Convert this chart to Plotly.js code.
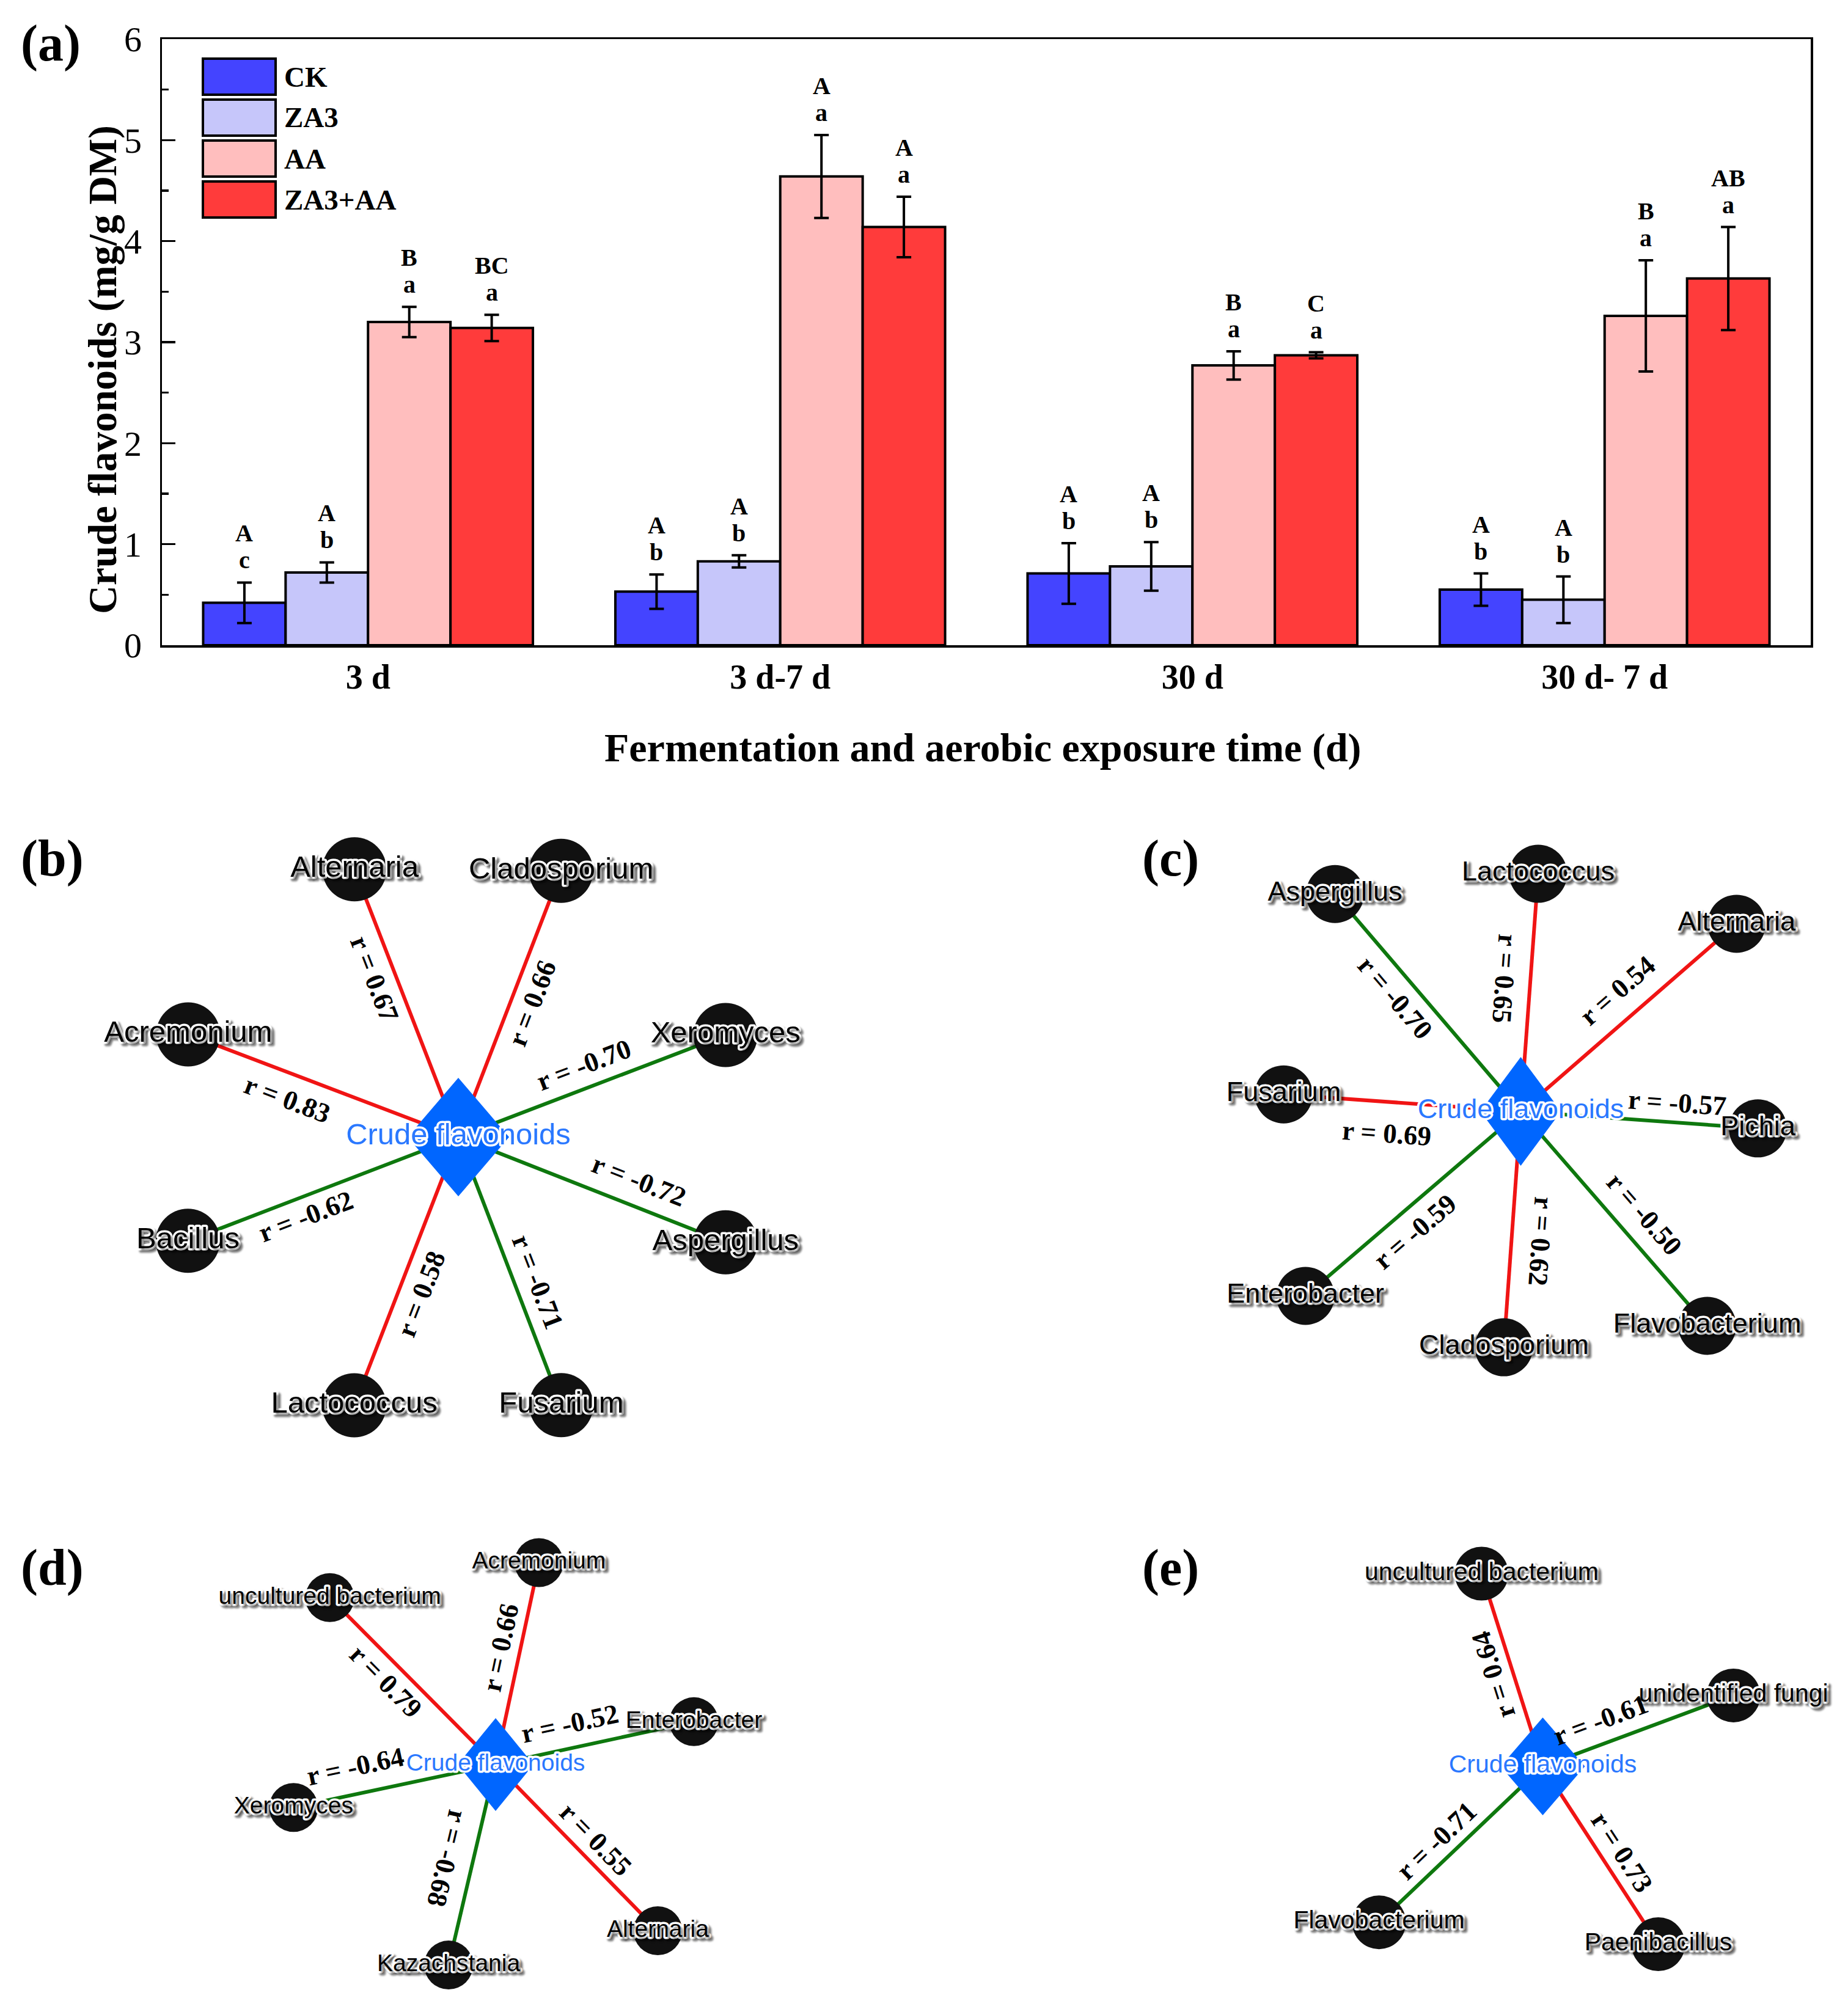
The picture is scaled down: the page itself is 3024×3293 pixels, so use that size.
<!DOCTYPE html>
<html>
<head>
<meta charset="utf-8">
<script src="https://cdn.plot.ly/plotly-3.0.1.min.js"></script>
<style>html,body{margin:0;padding:0;background:#fff;}</style>
</head>
<body>
<div id="chart" style="width:3024px;height:3293px;"></div>
<script>
// ================= DATA: panel (a) =================
const categories = ['3 d', '3 d-7 d', '30 d', '30 d- 7 d'];
const seriesNames = ['CK', 'ZA3', 'AA', 'ZA3+AA'];
const ckMean  = [0.42, 0.53, 0.71, 0.55];
const ckErr   = [0.20, 0.17, 0.30, 0.16];
const za3Mean = [0.72, 0.83, 0.78, 0.45];
const za3Err  = [0.10, 0.06, 0.24, 0.23];
const aaMean  = [3.20, 4.64, 2.77, 3.26];
const aaErr   = [0.15, 0.41, 0.14, 0.55];
const mixMean = [3.14, 4.14, 2.87, 3.63];
const mixErr  = [0.13, 0.30, 0.03, 0.51];
const ckUpper  = ['A', 'A', 'A', 'A'];  const ckLower  = ['c', 'b', 'b', 'b'];
const za3Upper = ['A', 'A', 'A', 'A'];  const za3Lower = ['b', 'b', 'b', 'b'];
const aaUpper  = ['B', 'A', 'B', 'B'];  const aaLower  = ['a', 'a', 'a', 'a'];
const mixUpper = ['BC', 'A', 'C', 'AB']; const mixLower = ['a', 'a', 'a', 'a'];
const yTitle = 'Crude flavonoids (mg/g DM)';
const xTitle = 'Fermentation and aerobic exposure time (d)';

// ================= DATA: networks (b)-(e) =================
const hubName = 'Crude flavonoids';
const netB_nodes = ['Alternaria', 'Cladosporium', 'Acremonium', 'Xeromyces', 'Bacillus', 'Aspergillus', 'Lactococcus', 'Fusarium'];
const netB_r     = [0.67, 0.66, 0.83, -0.70, -0.62, -0.72, 0.58, -0.71];
const netC_nodes = ['Aspergillus', 'Lactococcus', 'Alternaria', 'Fusarium', 'Pichia', 'Enterobacter', 'Cladosporium', 'Flavobacterium'];
const netC_r     = [-0.70, 0.65, 0.54, 0.69, -0.57, -0.59, 0.62, -0.50];
const netD_nodes = ['uncultured bacterium', 'Acremonium', 'Enterobacter', 'Xeromyces', 'Kazachstania', 'Alternaria'];
const netD_r     = [0.79, 0.66, -0.52, -0.64, -0.68, 0.55];
const netE_nodes = ['uncultured bacterium', 'unidentified fungi', 'Flavobacterium', 'Paenibacillus'];
const netE_r     = [0.64, -0.61, -0.71, 0.73];

// ================= LAYOUT / STYLE (positions, sizes) =================
const W = 3024, H = 3293;
const SERIF = 'Liberation Serif, Times New Roman, serif';
const SANS = 'Liberation Sans, Arial, sans-serif';
const barColors = ['#4444ff', '#c6c6fa', '#ffbebe', '#ff3b3b'];
const RED = '#f01414', GREEN = '#0e780e', HUB = '#0066ff', NODE = '#111111';
const BARGAP = 0.2;
const plotL = 265, plotR = 2963, plotT = 64, plotB = 1056;
const netTop = 1290;

// network layout: hub centre, diamond half sizes, node polar layout (deg, px), edge-label placement
const netGeom = {
  b: {cx: 750, cy: 1861, hw: 83, hh: 97, nodeSize: 105, labelSize: 49,
      ang: [111.2, 68.9, 159.2, 20.9, -159.0, -21.5, -111.2, -69.0],
      dist: [470, 467, 473, 468, 474, 470, 471, 470],
      t: [0.62, 0.53, 0.60, 0.50, 0.59, 0.64, 0.555, 0.57],
      off: [-34, 34, -42, -37, -32, -42, -36, -36],
      dir: [-1, 1, -1, 1, -1, 1, -1, 1]},
  c: {cx: 2488.5, cy: 1819, hw: 66, hh: 89, nodeSize: 95, labelSize: 45,
      ang: [130.5, 85.8, 41.0, 175.9, -4.1, -139.4, -94.1, -49.0],
      dist: [468, 390, 468, 389, 389, 464, 387, 465],
      t: [0.587, 0.55, 0.533, 0.555, 0.654, 0.56, 0.543, 0.558],
      off: [-36, -42, -45, -52, -32, -37, -48, -42],
      dir: [-1, -1, 1, -1, 1, -1, 1, 1]},
  d: {cx: 811, cy: 2888, hw: 62, hh: 76, nodeSize: 80, labelSize: 39,
      ang: [134.8, 77.9, 12.2, -168.0, -103.2, -45.7],
      dist: [385, 338, 332, 338, 337, 380],
      t: [0.579, 0.56, 0.40, 0.665, 0.498, 0.533],
      off: [-32, -32, -40, 45, 42, -32],
      dir: [-1, 1, 1, -1, 1, 1]},
  e: {cx: 2524.5, cy: 2891, hw: 69, hh: 80, nodeSize: 88, labelSize: 41,
      ang: [107.6, 20.4, -136.4, -57.0],
      dist: [331, 333, 370, 347],
      t: [0.504, 0.347, 0.568, 0.542],
      off: [-32, -38, 32, -32],
      dir: [1, 1, -1, 1]}
};
const panelLabels = [['(a)', 83, 71], ['(b)', 85, 1405], ['(c)', 1915, 1405], ['(d)', 85, 2566], ['(e)', 1915, 2566]];
const SHADOW_NODE = '4px 4px 3px rgba(0,0,0,0.45)';

// ================= BUILD =================
const px = v => v / W;
const py = v => 1 - v / H;
const traces = [];
const annotations = [];
const shapes = [];

const means = [ckMean, za3Mean, aaMean, mixMean];
const errs = [ckErr, za3Err, aaErr, mixErr];
const uppers = [ckUpper, za3Upper, aaUpper, mixUpper];
const lowers = [ckLower, za3Lower, aaLower, mixLower];

seriesNames.forEach((nm, s) => {
  traces.push({
    type: 'bar', name: nm, x: categories, y: means[s], xaxis: 'x', yaxis: 'y',
    marker: {color: barColors[s], line: {color: '#000', width: 4}},
    error_y: {type: 'data', array: errs[s], visible: true, color: '#000', thickness: 4, width: 12},
    showlegend: false, hoverinfo: 'skip'
  });
});

// significance letters above error bars
const bw = (1 - BARGAP) / seriesNames.length;
categories.forEach((c, i) => {
  seriesNames.forEach((nm, s) => {
    const xpos = i + (s - (seriesNames.length - 1) / 2) * bw;
    const ytop = means[s][i] + errs[s][i];
    const f = {family: SERIF, size: 40, color: '#000', weight: 'bold'};
    annotations.push({xref: 'x', yref: 'y', x: xpos, y: ytop, text: lowers[s][i], showarrow: false,
      xanchor: 'center', yanchor: 'bottom', yshift: 12, font: f});
    annotations.push({xref: 'x', yref: 'y', x: xpos, y: ytop, text: uppers[s][i], showarrow: false,
      xanchor: 'center', yanchor: 'bottom', yshift: 56, font: f});
  });
});

// custom legend (large swatches)
seriesNames.forEach((nm, s) => {
  const top = 96 + 67 * s, bot = top + 59;
  shapes.push({type: 'rect', xref: 'paper', yref: 'paper', x0: px(332), x1: px(451), y0: py(bot), y1: py(top),
    fillcolor: barColors[s], line: {color: '#000', width: 4}});
  annotations.push({xref: 'paper', yref: 'paper', x: px(463), y: py((top + bot) / 2), text: nm, showarrow: false,
    xanchor: 'left', yanchor: 'middle', font: {family: SERIF, size: 47, color: '#000', weight: 'bold'}});
});

// axis titles of panel (a)
annotations.push({xref: 'paper', yref: 'paper', x: px(168), y: py(605), text: yTitle, textangle: -90, showarrow: false,
  xanchor: 'center', yanchor: 'middle', font: {family: SERIF, size: 65, color: '#000', weight: 'bold'}});
annotations.push({xref: 'paper', yref: 'paper', x: px(1609), y: py(1224), text: xTitle, showarrow: false,
  xanchor: 'center', yanchor: 'middle', font: {family: SERIF, size: 66, color: '#000', weight: 'bold'}});

// panel labels
panelLabels.forEach(([t, x, y]) => {
  annotations.push({xref: 'paper', yref: 'paper', x: px(x), y: py(y), text: t, showarrow: false,
    xanchor: 'center', yanchor: 'middle', font: {family: SERIF, size: 84, color: '#000', weight: 'bold'}});
});

function buildNet(key, nodes, rs) {
  const g = netGeom[key];
  const pos = nodes.map((n, k) => {
    const a = g.ang[k] * Math.PI / 180;
    return [g.cx + g.dist[k] * Math.cos(a), g.cy - g.dist[k] * Math.sin(a)];
  });
  [true, false].forEach(positive => {
    const xs = [], ys = [];
    rs.forEach((r, k) => {
      if ((r > 0) === positive) { xs.push(g.cx, pos[k][0], null); ys.push(g.cy, pos[k][1], null); }
    });
    traces.push({type: 'scatter', mode: 'lines', x: xs, y: ys, xaxis: 'x2', yaxis: 'y2',
      line: {color: positive ? RED : GREEN, width: 6}, hoverinfo: 'skip', showlegend: false, cliponaxis: false});
  });
  traces.push({type: 'scatter', mode: 'markers', x: pos.map(p => p[0]), y: pos.map(p => p[1]),
    xaxis: 'x2', yaxis: 'y2', cliponaxis: false,
    marker: {size: g.nodeSize, color: NODE, line: {width: 0}},
    hoverinfo: 'skip', showlegend: false});
  traces.push({type: 'scatter', mode: 'lines', fill: 'toself', fillcolor: HUB,
    x: [g.cx - g.hw, g.cx, g.cx + g.hw, g.cx, g.cx - g.hw],
    y: [g.cy, g.cy - g.hh, g.cy, g.cy + g.hh, g.cy],
    xaxis: 'x2', yaxis: 'y2', line: {width: 0, color: HUB}, hoverinfo: 'skip', showlegend: false});
  traces.push({type: 'scatter', mode: 'text', x: pos.map(p => p[0]), y: pos.map(p => p[1]),
    xaxis: 'x2', yaxis: 'y2', text: nodes, textposition: 'middle center', cliponaxis: false,
    textfont: {family: SANS, size: g.labelSize, color: '#000', shadow: SHADOW_NODE},
    hoverinfo: 'skip', showlegend: false});
  traces.push({type: 'scatter', mode: 'text', x: [g.cx], y: [g.cy], text: [hubName], textposition: 'middle center',
    xaxis: 'x2', yaxis: 'y2', cliponaxis: false,
    textfont: {family: SANS, size: g.labelSize, color: '#2a78ff'},
    hoverinfo: 'skip', showlegend: false});
  rs.forEach((r, k) => {
    const dx = pos[k][0] - g.cx, dy = pos[k][1] - g.cy, len = Math.hypot(dx, dy);
    const ux = dx / len, uy = dy / len, nx = -uy, ny = ux;
    const lx = g.cx + g.t[k] * dx + g.off[k] * nx;
    const ly = g.cy + g.t[k] * dy + g.off[k] * ny;
    let ang = Math.atan2(dy, dx) * 180 / Math.PI;
    if (g.dir[k] < 0) ang += 180;
    while (ang > 180) ang -= 360;
    while (ang <= -180) ang += 360;
    annotations.push({xref: 'x2', yref: 'y2', x: lx, y: ly, text: 'r = ' + r.toFixed(2), textangle: ang,
      showarrow: false, xanchor: 'center', yanchor: 'middle',
      font: {family: SERIF, size: 45, color: '#000', weight: 'bold'}});
  });
}
buildNet('b', netB_nodes, netB_r);
buildNet('c', netC_nodes, netC_r);
buildNet('d', netD_nodes, netD_r);
buildNet('e', netE_nodes, netE_r);

const layout = {
  width: W, height: H, autosize: false,
  margin: {l: 0, r: 0, t: 0, b: 0, pad: 0},
  paper_bgcolor: '#fff', plot_bgcolor: 'rgba(0,0,0,0)',
  barmode: 'group', bargap: BARGAP, bargroupgap: 0,
  showlegend: false,
  xaxis: {domain: [px(plotL), px(plotR)], anchor: 'y', type: 'category',
    showline: true, linecolor: '#000', linewidth: 3.5, mirror: true, ticks: '', showgrid: false, zeroline: false,
    tickfont: {family: SERIF, size: 56, color: '#000', weight: 'bold'}, ticklabelstandoff: 0},
  yaxis: {domain: [py(plotB), py(plotT)], anchor: 'x', range: [0, 6], tick0: 0, dtick: 1,
    showline: true, linecolor: '#000', linewidth: 3.5, mirror: true, showgrid: false, zeroline: false,
    ticks: 'inside', ticklen: 22, tickwidth: 3.5, tickcolor: '#000',
    minor: {dtick: 0.5, ticks: 'inside', ticklen: 11, tickwidth: 3.5, tickcolor: '#000', showgrid: false},
    tickfont: {family: SERIF, size: 58, color: '#000'}, ticklabelstandoff: 18},
  xaxis2: {domain: [0, 1], anchor: 'y2', range: [0, W], visible: false, showgrid: false, zeroline: false},
  yaxis2: {domain: [0, py(netTop)], anchor: 'x2', range: [H, netTop], visible: false, showgrid: false, zeroline: false},
  annotations: annotations,
  shapes: shapes
};

Plotly.newPlot('chart', traces, layout, {displayModeBar: false, staticPlot: true}).then(gd => {
  // white outline (halo) around the network label texts, as in the Cytoscape export
  gd.querySelectorAll('.scatterlayer .trace .textpoint text').forEach(el => {
    el.style.paintOrder = 'stroke fill';
    el.style.stroke = '#ffffff';
    el.style.strokeWidth = '7px';
    el.style.strokeLinejoin = 'round';
  });
});
</script>
</body>
</html>
